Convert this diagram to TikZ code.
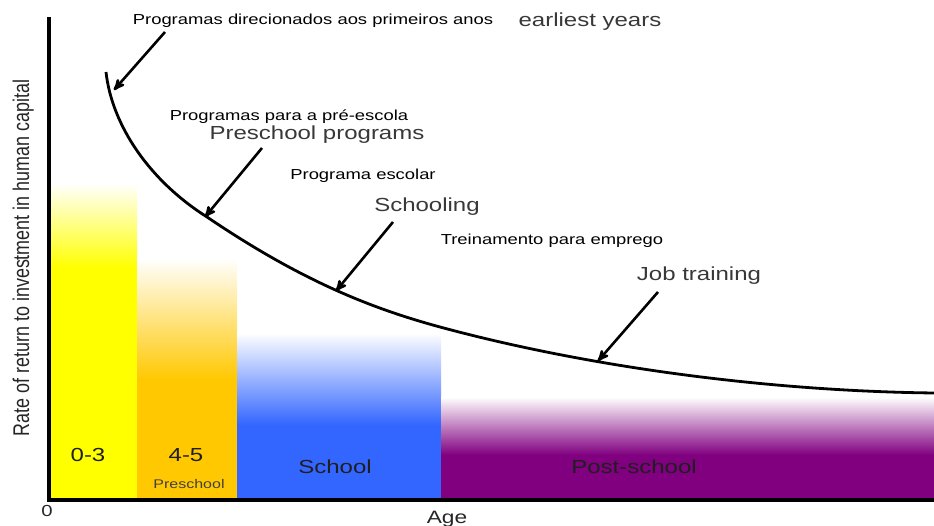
\documentclass[tikz,border=0pt]{standalone}
\usepackage{fontspec}
\setmainfont{Liberation Sans}
\usetikzlibrary{arrows}

\definecolor{yellowbar}{RGB}{255,255,0}
\definecolor{orangebar}{RGB}{255,200,0}
\definecolor{bluebar}{RGB}{51,102,255}
\definecolor{purplebar}{RGB}{128,0,128}

\begin{document}
\begin{tikzpicture}[x=1pt,y=1pt,>=stealth',
  pt label/.style={font=\fontsize{14.5}{17}\selectfont,xscale=1.27,anchor=base,inner sep=0pt},
  en label/.style={font=\fontsize{18.9}{22}\selectfont,text=black!78,xscale=1.27,anchor=base,inner sep=0pt},
  bar label/.style={font=\fontsize{18.9}{22}\selectfont,text=black!88,xscale=1.27,anchor=base,inner sep=0pt},
  small label/.style={font=\fontsize{12.6}{15}\selectfont,text=black!75,xscale=1.27,anchor=base,inner sep=0pt},
  axis label/.style={font=\fontsize{17.9}{21}\selectfont,text=black!85,xscale=1.27,anchor=base,inner sep=0pt},
  axis/.style={line width=3.5pt},
  pointer/.style={->,line width=2.6pt}]

  \useasboundingbox (0,0) rectangle (934,526);

  % bars
  \fill[yellowbar] (51,26) rectangle (137,258);
  \shade[top color=white,bottom color=yellowbar] (51,258) rectangle (137,343);
  \fill[orangebar] (137,26) rectangle (237,146);
  \shade[top color=white,bottom color=orangebar] (137,146) rectangle (237,268);
  \fill[bluebar] (237,26) rectangle (441,101);
  \shade[top color=white,bottom color=bluebar] (237,101) rectangle (441,193);
  \fill[purplebar] (441,26) rectangle (934,71);
  \shade[top color=white,bottom color=purplebar] (441,71) rectangle (934,129);

  \node[bar label] (young) at (88,64) {0-3};
  \node[bar label] (pre) at (186,64) {4-5};
  \node[small label] (prename) at (189,37) {Preschool};
  \node[bar label] (school) at (335,52) {School};
  \node[bar label] (post) at (634,52) {Post-school};

  % axes
  \coordinate (ytop) at (49,509);
  \coordinate (origin) at (49,26);
  \coordinate (xend) at (934,26);
  \draw[axis] (ytop) -- (origin) -- (xend);
  \node[axis label,font=\fontsize{16}{19}\selectfont] (zero) at (47,9) {0};
  \node[axis label] (age) at (447,2) {Age};
  \node[axis label,rotate=90] (rate) at (29,268) {Rate of return to investment in human capital};

  % return curve
  \draw[line width=2.8pt] (106,454) .. controls (112,400) and (150,345) .. (207,309)
    .. controls (300,246) and (370,218) .. (440,199)
    .. controls (580,161) and (760,135) .. (934,133);

  % labels
  \node[pt label] (ptfirst) at (313,501) {Programas direcionados aos primeiros anos};
  \node[en label] (enfirst) at (590,499) {earliest years};
  \node[pt label] (ptpre) at (289,405) {Programas para a pré-escola};
  \node[en label] (enpre) at (317,386) {Preschool programs};
  \node[pt label] (ptschool) at (363,346) {Programa escolar};
  \node[en label] (enschool) at (427,314) {Schooling};
  \node[pt label] (ptjob) at (552,281) {Treinamento para emprego};
  \node[en label] (enjob) at (699,245) {Job training};

  % pointers
  \coordinate (t1) at (165,494); \coordinate (h1) at (114,436);
  \coordinate (t2) at (262,378); \coordinate (h2) at (205,309);
  \coordinate (t3) at (393,304); \coordinate (h3) at (336,235);
  \coordinate (t4) at (658,234); \coordinate (h4) at (598,165);

  \path[pointer]
    (t1) edge (h1)
    (t2) edge (h2)
    (t3) edge (h3)
    (t4) edge (h4)
    ;

\end{tikzpicture}
\end{document}
